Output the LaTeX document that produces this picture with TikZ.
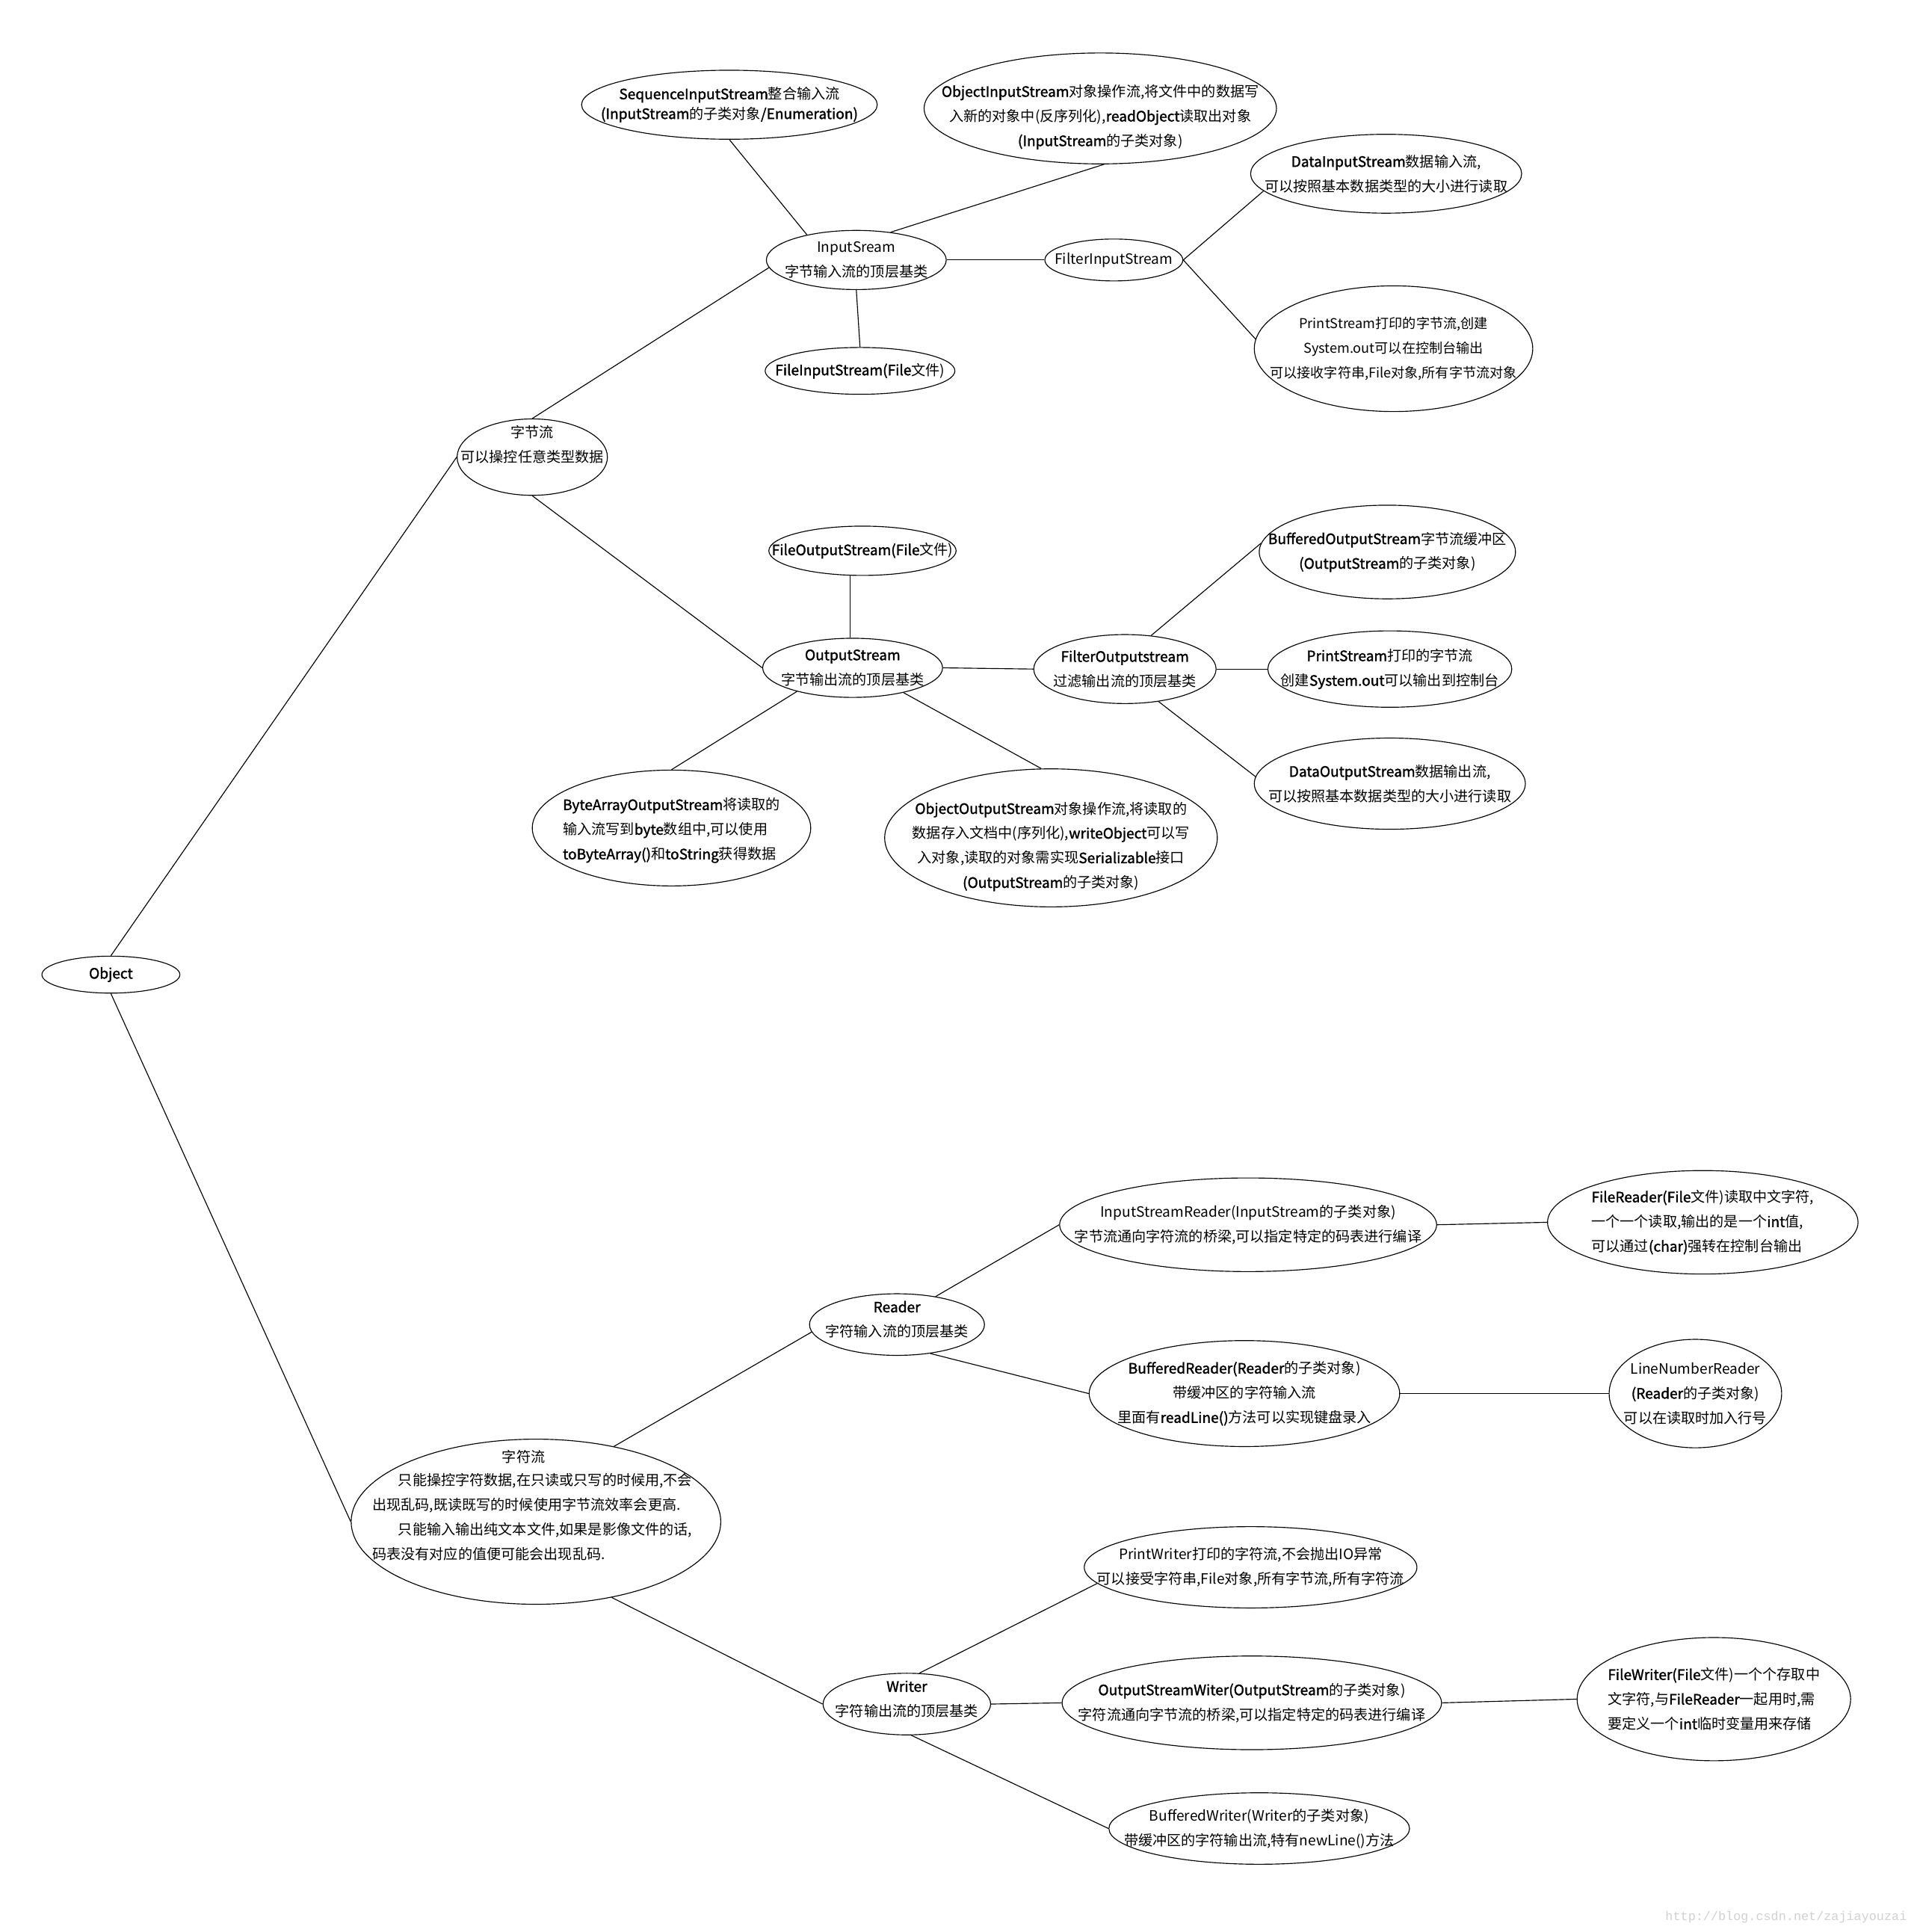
\documentclass[tikz,border=0pt]{standalone}
\usepackage{fontspec}
\setmainfont{Noto Sans CJK SC}
\newfontfamily\fbfont{Noto Sans CJK SC}[FakeBold=1.6]
\newfontfamily\wmfont{Liberation Mono}
\usetikzlibrary{shapes.geometric}
\tikzset{
  bubble/.style={draw, ellipse, line width=0.35pt, inner sep=0pt},
  lbl/.style={align=center, inner sep=0pt, font=\fontsize{5.8pt}{10pt}\selectfont},
  link/.style={draw, line width=0.35pt},
}
\newcommand\bo[1]{{\fbfont #1}}
% name, x, y, rx, ry, label options, text
\newcommand\mybub[7]{%
  \node[bubble, minimum width=#4pt, minimum height=#5pt] (#1) at (#2,#3) {};
  \node[lbl,#6] (#1t) at (#2,#3) {#7};}
\begin{document}
\begin{tikzpicture}[x=0.5pt,y=-0.5pt]
\path[fill=white, use as bounding box] (0,0) rectangle (1553,1568);

% ---- byte streams ----
\mybub{obj}{90}{791}{56}{15}{}{\bo{Object}}
\mybub{zj}{432}{371}{61}{31}{yshift=5pt}{字节流\\可以操控任意类型数据}
\mybub{ins}{695}{211}{73}{24}{}{InputSream\\字节输入流的顶层基类}
\mybub{seq}{592}{85}{120}{28}{font=\fontsize{5.8pt}{8pt}\selectfont}{\bo{SequenceInputStream}整合输入流\\\bo{(InputStream}的子类对象\bo{/Enumeration)}}
\mybub{oin}{893}{88}{143}{45}{yshift=-3.5pt}{\bo{ObjectInputStream}对象操作流,将文件中的数据写\\入新的对象中(反序列化),\bo{readObject}读取出对象\\\bo{(InputStream}的子类对象)}
\mybub{fin}{904}{211}{56}{17}{}{FilterInputStream}
\mybub{din}{1125}{141}{110}{32}{}{\bo{DataInputStream}数据输入流,\\可以按照基本数据类型的大小进行读取}
\mybub{pin}{1131}{283}{113}{51}{font=\fontsize{5.5pt}{10pt}\selectfont}{PrintStream打印的字节流,创建\\System.out可以在控制台输出\\可以接收字符串,File对象,所有字节流对象}
\mybub{fis}{698}{301}{77}{19}{}{\bo{FileInputStream(File}文件)}
\mybub{fos}{700}{447}{76}{20}{}{\bo{FileOutputStream(File}文件)}
\mybub{out}{692}{542}{73}{24}{}{\bo{OutputStream}\\字节输出流的顶层基类}
\mybub{fout}{913}{543}{74}{28}{}{\bo{FilterOutputstream}\\过滤输出流的顶层基类}
\mybub{bos}{1126}{448}{104}{38}{}{\bo{BufferedOutputStream}字节流缓冲区\\\bo{(OutputStream}的子类对象)}
\mybub{pout}{1128}{543}{99}{31}{}{\bo{PrintStream}打印的字节流\\创建\bo{System.out}可以输出到控制台}
\mybub{dos}{1128}{636}{110}{37}{}{\bo{DataOutputStream}数据输出流,\\可以按照基本数据类型的大小进行读取}
\mybub{bao}{545}{672}{113}{47}{align=left, yshift=-1pt}{\bo{ByteArrayOutputStream}将读取的\\输入流写到\bo{byte}数组中,可以使用\\\bo{toByteArray()}和\bo{toString}获得数据}
\mybub{oout}{853}{680}{135}{56}{yshift=-3.5pt}{\bo{ObjectOutputStream}对象操作流,将读取的\\数据存入文档中(序列化),\bo{writeObject}可以写\\入对象,读取的对象需实现\bo{Serializable}接口\\\bo{(OutputStream}的子类对象)}

% ---- character streams ----
\node[bubble, minimum width=150pt, minimum height=67pt] (zf) at (435,1235) {};
\node[lbl] (zftitle) at (425,1182) {字符流};
\node[lbl, align=left] (zfbody) at (432,1231) {\hspace*{10.5pt}只能操控字符数据,在只读或只写的时候用,不会\\出现乱码,既读既写的时候使用字节流效率会更高.\\\hspace*{10.5pt}只能输入输出纯文本文件,如果是影像文件的话,\\码表没有对应的值便可能会出现乱码.};
\mybub{rd}{728}{1075}{71}{25}{yshift=2pt}{\bo{Reader}\\字符输入流的顶层基类}
\mybub{isr}{1013}{994}{153}{38}{}{InputStreamReader(InputStream的子类对象)\\字节流通向字符流的桥梁,可以指定特定的码表进行编译}
\mybub{frd}{1382}{992}{126}{42}{align=left}{\bo{FileReader(File}文件)读取中文字符,\\一个一个读取,输出的是一个\bo{int}值,\\可以通过\bo{(char)}强转在控制台输出}
\mybub{brd}{1010}{1131}{126}{43}{}{\bo{BufferedReader(Reader}的子类对象)\\带缓冲区的字符输入流\\里面有\bo{readLine()}方法可以实现键盘录入}
\mybub{lnr}{1376}{1131}{70}{44}{}{LineNumberReader\\\bo{(Reader}的子类对象)\\可以在读取时加入行号}
\mybub{wr}{736}{1383}{68}{25}{yshift=2pt}{\bo{Writer}\\字符输出流的顶层基类}
\mybub{pw}{1015}{1272}{135}{33}{}{PrintWriter打印的字符流,不会抛出IO异常\\可以接受字符串,File对象,所有字节流,所有字符流}
\mybub{osw}{1016}{1382}{154}{38}{}{\bo{OutputStreamWiter(OutputStream}的子类对象)\\字符流通向字节流的桥梁,可以指定特定的码表进行编译}
\mybub{fwr}{1391}{1379}{111}{50}{align=left}{\bo{FileWriter(File}文件)一个个存取中\\文字符,与\bo{FileReader}一起用时,需\\要定义一个\bo{int}临时变量用来存储}
\mybub{bwr}{1022}{1484}{122}{29}{}{BufferedWriter(Writer的子类对象)\\带缓冲区的字符输出流,特有newLine()方法}

% ---- connectors ----
\draw[link] (obj.north) -- (zj.west);
\draw[link] (obj.south) -- (zf.west);
\draw[link] (zj.north) -- (ins.185);
\draw[link] (zj.south) -- (out.west);
\draw[link] (ins.153) -- (seq.south);
\draw[link] (ins.39) -- (oin.274);
\draw[link] (ins.east) -- (fin.west);
\draw[link] (ins.south) -- (fis.north);
\draw[link] (fin.east) -- (din.188);
\draw[link] (fin.east) -- (pin.176);
\draw[link] (out.95) -- (out.95 |- fos.south);
\draw[link] (out.east) -- (fout.west);
\draw[link] (out.203) -- (bao.north);
\draw[link] (out.334) -- (oout.98);
\draw[link] (fout.52) -- (bos.176);
\draw[link] (fout.east) -- (pout.west);
\draw[link] (fout.316) -- (dos.177);
\draw[link] (zf.44) -- (rd.185);
\draw[link] (zf.315) -- (wr.west);
\draw[link] (rd.36) -- (isr.west);
\draw[link] (rd.319) -- (brd.west);
\draw[link] (isr.east) -- (frd.west);
\draw[link] (brd.east) -- (lnr.west);
\draw[link] (wr.68) -- (pw.186);
\draw[link] (wr.east) -- (osw.west);
\draw[link] (wr.278) -- (bwr.west);
\draw[link] (osw.east) -- (fwr.west);

\node[anchor=east, inner sep=0pt, text=black!18, font=\wmfont\fontsize{5.1pt}{6pt}\selectfont] (wm) at (1548,1556) {http://blog.csdn.net/zajiayouzai};
\end{tikzpicture}
\end{document}
